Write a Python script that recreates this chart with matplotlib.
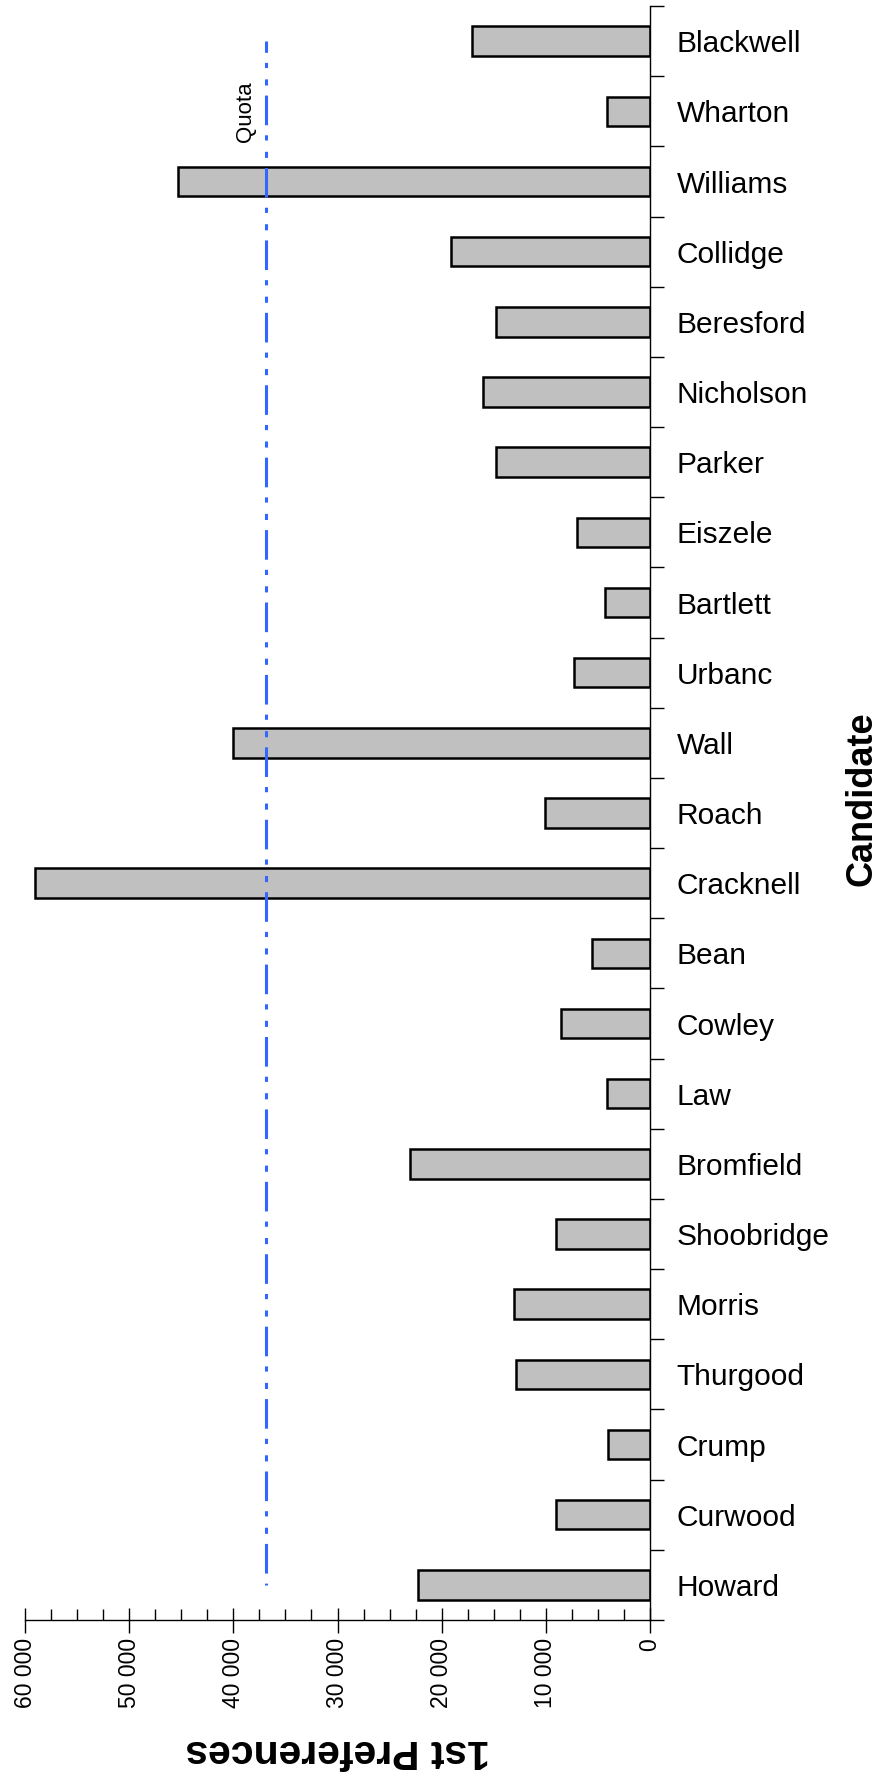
import matplotlib
matplotlib.use("Agg")
import matplotlib.pyplot as plt
from matplotlib.ticker import MultipleLocator, FuncFormatter

plt.rcParams["font.family"] = ["Liberation Sans", "DejaVu Sans"]

candidates = [
    "Blackwell", "Wharton", "Williams", "Collidge", "Beresford", "Nicholson",
    "Parker", "Eiszele", "Bartlett", "Urbanc", "Wall", "Roach", "Cracknell",
    "Bean", "Cowley", "Law", "Bromfield", "Shoobridge", "Morris", "Thurgood",
    "Crump", "Curwood", "Howard",
]
first_prefs = [
    17070, 4090, 45310, 19090, 14810, 16060,
    14810, 7040, 4330, 7320, 40050, 10070, 59020,
    5580, 8540, 4090, 23060, 9060, 13070, 12820,
    4050, 9000, 22300,
]
quota = 36900

fig = plt.figure(figsize=(8.81, 17.89), dpi=100)
ax = fig.add_axes([0.0284, 0.0945, 0.7094, 0.9021])

pos = list(range(len(candidates)))
ax.barh(pos, first_prefs, height=0.42, color="#C0C0C0",
        edgecolor="black", linewidth=1.8, zorder=2)

# quota line, dash-dot-dot
ax.plot([quota, quota], [pos[0], pos[-1]], color="#3366FF", linewidth=2.2,
        linestyle=(6, (9.7, 3.3, 1.7, 3.7, 2.0, 3.3)), zorder=3)
ax.text(quota + 900, 1, "Quota", rotation=90, ha="right", va="center",
        fontsize=16)

ax.set_xlim(60000, 0)
ax.set_ylim(len(candidates) - 0.5, -0.5)

# x axis
ax.xaxis.set_major_locator(MultipleLocator(10000))
ax.xaxis.set_minor_locator(MultipleLocator(2500))
ax.xaxis.set_major_formatter(
    FuncFormatter(lambda v, p: f"{int(v):,}".replace(",", " ")))
ax.tick_params(axis="x", which="major", direction="inout", length=18,
               width=1, labelsize=16.5, labelrotation=90, pad=4)
ax.tick_params(axis="x", which="minor", direction="in", length=8, width=1)
for lab in ax.get_xticklabels():
    lab.set_va("top")

# y axis on the right, ticks between categories
ax.yaxis.tick_right()
ax.set_yticks(pos)
ax.set_yticklabels(candidates)
ax.set_yticks([p - 0.5 for p in pos] + [pos[-1] + 0.5], minor=True)
ax.tick_params(axis="y", which="major", length=0, labelsize=21.5, pad=19)
ax.tick_params(axis="y", which="minor", direction="out", length=10,
               width=1)

for s in ["top", "left"]:
    ax.spines[s].set_visible(False)
ax.spines["right"].set_linewidth(1)
ax.spines["bottom"].set_linewidth(1)

ax.set_xlabel("1st Preferences", fontsize=29.5, fontweight="bold",
              rotation=180, labelpad=17)
fig.text(0.998, 0.5534, "Candidate", fontsize=26, fontweight="bold",
         rotation=90, ha="right", va="center")

fig.savefig("out.png", dpi=100)
